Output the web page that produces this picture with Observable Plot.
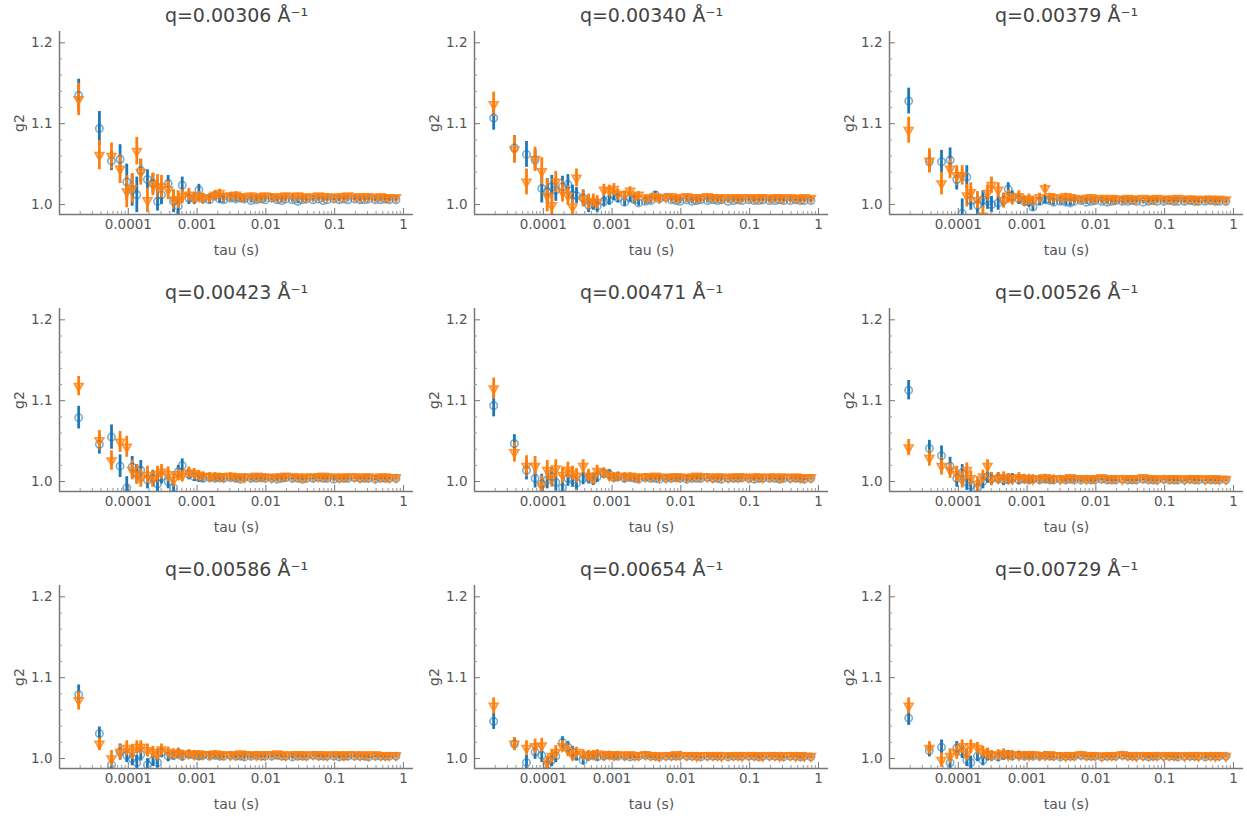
<!DOCTYPE html>
<html>
<head>
<meta charset="utf-8">
<script src="https://cdn.jsdelivr.net/npm/d3@7"></script>
<script src="https://cdn.jsdelivr.net/npm/@observablehq/plot@0.6"></script>
<style>
  html, body { margin: 0; padding: 0; background: #fff; overflow: hidden; }
  #grid { position: relative; width: 1247px; height: 824px; }
  #grid > div { position: absolute; }
</style>
</head>
<body>
<div id="grid"></div>
<script>
// ---- data ----
const qLabels = ["q=0.00306 Å⁻¹", "q=0.00340 Å⁻¹", "q=0.00379 Å⁻¹",
                 "q=0.00423 Å⁻¹", "q=0.00471 Å⁻¹", "q=0.00526 Å⁻¹",
                 "q=0.00586 Å⁻¹", "q=0.00654 Å⁻¹", "q=0.00729 Å⁻¹"];

const tau = [1.9e-5, 3.8e-5, 5.7e-5, 7.6e-5, 9.5e-5, 1.14e-4, 1.33e-4, 1.52e-4, 1.9e-4, 2.28e-4,
  2.66e-4, 3.04e-4, 3.8e-4, 4.56e-4, 5.32e-4, 6.08e-4, 7.6e-4, 9.12e-4, 1.064e-3, 1.216e-3,
  1.52e-3, 1.824e-3, 2.128e-3, 2.432e-3, 3.04e-3, 3.648e-3, 4.256e-3, 4.864e-3, 6.08e-3, 7.296e-3,
  8.512e-3, 9.728e-3, 1.216e-2, 1.459e-2, 1.702e-2, 1.946e-2, 2.432e-2, 2.918e-2, 3.405e-2, 3.891e-2,
  4.864e-2, 5.837e-2, 6.81e-2, 7.782e-2, 9.728e-2, 0.1167, 0.1362, 0.1556, 0.1946, 0.2335,
  0.2724, 0.3113, 0.3891, 0.4669, 0.5448, 0.6226, 0.7782];

const xTicks = [1e-4, 1e-3, 1e-2, 1e-1, 1];
const xTickLabels = ["0.0001", "0.001", "0.01", "0.1", "1"];
const yTicks = [1.0, 1.1, 1.2];
const yTickLabels = ["1.0", "1.1", "1.2"];
const yMinorTicks = [1.02, 1.04, 1.06, 1.08, 1.12, 1.14, 1.16, 1.18];
const xDomain = [1e-5, 1.4];
const yDomain = [0.9877, 1.214];

// panel 1
const blue1 = [1.135,1.094,1.054,1.056,1.028,1.018,1.012,1.042,1.031,1.026, 1.004,1.012,1.026,1.004,0.998,1.024,1.008,1.007,1.018,1.007,
  1.006,1.011,1.007,1.006,1.008,1.007,1.008,1.007,1.005,1.006, 1.007,1.006,1.008,1.006,1.005,1.007,1.006,1.004,1.006,1.007,
  1.006,1.007,1.005,1.006,1.007,1.006,1.007,1.006,1.007,1.006, 1.006,1.007,1.006,1.006,1.007,1.006,1.006];
const blueErr1 = [0.020,0.021,0.012,0.018,0.022,0.020,0.022,0.014,0.012,0.012, 0.012,0.012,0.010,0.014,0.013,0.010,0.008,0.007,0.007,0.006,
  0.005,0.005,0.005,0.004,0.004,0.004,0.004,0.004,0.003,0.003, 0.003,0.003,0.003,0.003,0.003,0.003,0.003,0.003,0.003,0.003,
  0.002,0.002,0.002,0.002,0.002,0.002,0.002,0.002,0.002,0.002, 0.002,0.002,0.002,0.002,0.002,0.002,0.002];
const orange1 = [1.130,1.061,1.060,1.044,1.016,1.020,1.066,1.040,1.005,1.025, 1.022,1.022,1.018,1.006,1.006,1.010,1.012,1.008,1.010,1.008,
  1.009,1.012,1.014,1.010,1.011,1.012,1.010,1.009,1.011,1.009, 1.010,1.011,1.010,1.009,1.010,1.011,1.010,1.011,1.010,1.009,
  1.010,1.011,1.010,1.010,1.009,1.010,1.010,1.011,1.010,1.009, 1.010,1.010,1.009,1.010,1.009,1.009,1.009];
const orangeErr1 = [0.020,0.018,0.016,0.018,0.020,0.018,0.017,0.016,0.015,0.014, 0.015,0.014,0.012,0.012,0.011,0.009,0.008,0.007,0.006,0.006,
  0.005,0.005,0.005,0.004,0.004,0.004,0.004,0.004,0.003,0.003, 0.003,0.003,0.003,0.003,0.003,0.003,0.003,0.003,0.003,0.003,
  0.002,0.002,0.002,0.002,0.002,0.002,0.002,0.002,0.002,0.002, 0.002,0.002,0.002,0.002,0.002,0.002,0.002];

// panel 2
const blue2 = [1.107,1.070,1.062,1.055,1.020,1.016,1.022,1.018,1.022,1.025, 1.012,1.011,1.008,0.999,1.001,0.998,1.004,1.006,1.011,1.008,
  1.003,1.008,1.006,1.002,1.004,1.005,1.012,1.007,1.009,1.006, 1.005,1.004,1.006,1.004,1.005,1.006,1.005,1.006,1.005,1.006,
  1.004,1.005,1.006,1.005,1.006,1.005,1.005,1.006,1.005,1.005, 1.006,1.005,1.005,1.006,1.005,1.005,1.005];
const blueErr2 = [0.015,0.015,0.016,0.012,0.018,0.016,0.014,0.014,0.013,0.012, 0.012,0.010,0.010,0.009,0.008,0.008,0.007,0.007,0.006,0.006,
  0.005,0.005,0.005,0.004,0.004,0.004,0.004,0.004,0.003,0.003, 0.003,0.003,0.003,0.003,0.003,0.003,0.003,0.003,0.003,0.003,
  0.002,0.002,0.002,0.002,0.002,0.002,0.002,0.002,0.002,0.002, 0.002,0.002,0.002,0.002,0.002,0.002,0.002];
const orange2 = [1.124,1.068,1.028,1.056,1.041,1.011,0.999,1.028,1.016,1.011, 0.997,1.033,1.007,1.003,1.004,1.003,1.018,1.017,1.019,1.013,
  1.012,1.017,1.010,1.012,1.008,1.009,1.010,1.008,1.009,1.010, 1.008,1.009,1.010,1.009,1.008,1.009,1.010,1.009,1.009,1.008,
  1.009,1.009,1.008,1.009,1.009,1.008,1.009,1.009,1.008,1.009, 1.009,1.008,1.009,1.008,1.008,1.009,1.008];
const orangeErr2 = [0.015,0.017,0.016,0.015,0.017,0.020,0.014,0.013,0.013,0.012, 0.012,0.011,0.010,0.010,0.009,0.008,0.007,0.007,0.007,0.006,
  0.005,0.005,0.005,0.004,0.004,0.004,0.004,0.004,0.003,0.003, 0.003,0.003,0.003,0.003,0.003,0.003,0.003,0.003,0.003,0.003,
  0.002,0.002,0.002,0.002,0.002,0.002,0.002,0.002,0.002,0.002, 0.002,0.002,0.002,0.002,0.002,0.002,0.002];

// panel 3
const blue3 = [1.128,1.053,1.053,1.055,1.031,0.989,1.034,1.005,0.999,1.006, 1.004,1.000,1.002,1.005,1.019,1.010,1.007,1.004,1.003,0.997,
  1.004,1.006,1.005,1.003,1.004,1.003,1.002,1.004,1.005,1.003, 1.004,1.005,1.004,1.003,1.004,1.005,1.004,1.004,1.005,1.004,
  1.003,1.004,1.005,1.004,1.004,1.005,1.004,1.004,1.004,1.005, 1.004,1.004,1.004,1.005,1.004,1.004,1.004];
const blueErr3 = [0.016,0.013,0.014,0.015,0.013,0.018,0.014,0.012,0.012,0.011, 0.010,0.010,0.009,0.009,0.008,0.007,0.007,0.006,0.006,0.005,
  0.005,0.005,0.004,0.004,0.004,0.004,0.004,0.003,0.003,0.003, 0.003,0.003,0.003,0.003,0.003,0.003,0.003,0.003,0.002,0.002,
  0.002,0.002,0.002,0.002,0.002,0.002,0.002,0.002,0.002,0.002, 0.002,0.002,0.002,0.002,0.002,0.002,0.002];
const orange3 = [1.092,1.054,1.026,1.044,1.036,1.036,1.011,1.015,1.005,0.986, 1.014,1.024,1.018,1.005,1.010,1.007,1.010,1.005,1.007,1.005,
  1.009,1.020,1.010,1.009,1.008,1.010,1.009,1.008,1.007,1.008, 1.009,1.007,1.008,1.007,1.008,1.007,1.007,1.008,1.007,1.007,
  1.008,1.007,1.007,1.008,1.007,1.007,1.007,1.008,1.007,1.007, 1.007,1.006,1.007,1.007,1.006,1.007,1.006];
const orangeErr3 = [0.016,0.015,0.014,0.012,0.012,0.012,0.014,0.012,0.011,0.012, 0.010,0.010,0.009,0.009,0.008,0.007,0.007,0.006,0.006,0.005,
  0.005,0.005,0.004,0.004,0.004,0.004,0.004,0.003,0.003,0.003, 0.003,0.003,0.003,0.003,0.003,0.003,0.003,0.003,0.002,0.002,
  0.002,0.002,0.002,0.002,0.002,0.002,0.002,0.002,0.002,0.002, 0.002,0.002,0.002,0.002,0.002,0.002,0.002];

// panel 4
const blue4 = [1.079,1.046,1.055,1.019,0.992,1.018,1.009,1.014,1.002,1.004, 0.997,1.006,1.000,0.992,1.012,1.020,1.009,1.006,1.005,1.004,
  1.005,1.004,1.005,1.004,1.005,1.004,1.003,1.005,1.004,1.004, 1.005,1.004,1.004,1.003,1.004,1.005,1.004,1.004,1.003,1.004,
  1.004,1.005,1.004,1.004,1.003,1.004,1.004,1.004,1.005,1.004, 1.004,1.004,1.003,1.004,1.004,1.004,1.004];
const blueErr4 = [0.014,0.012,0.015,0.014,0.014,0.013,0.012,0.012,0.011,0.010, 0.010,0.009,0.009,0.008,0.008,0.008,0.007,0.006,0.006,0.005,
  0.005,0.004,0.004,0.004,0.004,0.004,0.003,0.003,0.003,0.003, 0.003,0.003,0.003,0.003,0.003,0.003,0.002,0.002,0.002,0.002,
  0.002,0.002,0.002,0.002,0.002,0.002,0.002,0.002,0.002,0.002, 0.002,0.002,0.002,0.002,0.002,0.002,0.002];
const orange4 = [1.118,1.051,1.026,1.049,1.043,1.014,1.009,1.004,1.008,1.003, 1.009,1.012,1.009,1.002,1.009,1.007,1.011,1.010,1.008,1.007,
  1.006,1.007,1.006,1.006,1.007,1.006,1.006,1.005,1.006,1.007, 1.006,1.006,1.005,1.006,1.006,1.007,1.006,1.006,1.005,1.006,
  1.006,1.006,1.007,1.006,1.006,1.005,1.006,1.006,1.006,1.005, 1.006,1.006,1.005,1.006,1.006,1.005,1.005];
const orangeErr4 = [0.012,0.012,0.012,0.013,0.013,0.012,0.012,0.011,0.011,0.010, 0.010,0.009,0.009,0.008,0.008,0.007,0.007,0.006,0.006,0.005,
  0.005,0.004,0.004,0.004,0.004,0.004,0.003,0.003,0.003,0.003, 0.003,0.003,0.003,0.003,0.003,0.003,0.002,0.002,0.002,0.002,
  0.002,0.002,0.002,0.002,0.002,0.002,0.002,0.002,0.002,0.002, 0.002,0.002,0.002,0.002,0.002,0.002,0.002];

// panel 5
const blue5 = [1.094,1.047,1.014,1.004,0.997,1.002,1.006,0.999,0.992,1.004, 1.002,0.998,1.004,1.005,1.002,1.006,1.010,1.009,1.005,1.006,
  1.004,1.005,1.004,1.003,1.005,1.004,1.004,1.003,1.004,1.004, 1.005,1.004,1.003,1.004,1.004,1.004,1.005,1.004,1.004,1.003,
  1.004,1.004,1.004,1.005,1.004,1.003,1.004,1.004,1.004,1.004, 1.003,1.004,1.004,1.004,1.004,1.003,1.004];
const blueErr5 = [0.014,0.011,0.012,0.012,0.012,0.011,0.011,0.011,0.010,0.010, 0.009,0.009,0.008,0.008,0.007,0.007,0.006,0.006,0.005,0.005,
  0.005,0.004,0.004,0.004,0.004,0.003,0.003,0.003,0.003,0.003, 0.003,0.003,0.003,0.003,0.002,0.002,0.002,0.002,0.002,0.002,
  0.002,0.002,0.002,0.002,0.002,0.002,0.002,0.002,0.002,0.002, 0.002,0.002,0.002,0.002,0.002,0.002,0.002];
const orange5 = [1.115,1.036,1.019,1.019,0.995,1.014,1.004,1.016,1.008,1.014, 1.010,1.007,1.019,1.007,1.004,1.013,1.011,1.007,1.006,1.007,
  1.006,1.007,1.006,1.005,1.006,1.006,1.007,1.006,1.005,1.006, 1.006,1.006,1.005,1.006,1.007,1.006,1.006,1.005,1.006,1.006,
  1.005,1.006,1.006,1.006,1.005,1.006,1.006,1.005,1.006,1.006, 1.005,1.006,1.005,1.006,1.005,1.005,1.005];
const orangeErr5 = [0.013,0.012,0.013,0.012,0.012,0.012,0.011,0.011,0.010,0.010, 0.009,0.009,0.008,0.008,0.007,0.007,0.006,0.006,0.005,0.005,
  0.005,0.004,0.004,0.004,0.004,0.003,0.003,0.003,0.003,0.003, 0.003,0.003,0.003,0.003,0.002,0.002,0.002,0.002,0.002,0.002,
  0.002,0.002,0.002,0.002,0.002,0.002,0.002,0.002,0.002,0.002, 0.002,0.002,0.002,0.002,0.002,0.002,0.002];

// panel 6
const blue6 = [1.113,1.041,1.032,1.019,1.004,1.011,0.999,0.995,0.992,1.000, 1.006,1.003,1.004,1.002,1.003,1.004,1.002,1.003,1.002,1.003,
  1.002,1.003,1.002,1.002,1.003,1.002,1.003,1.002,1.002,1.003, 1.002,1.002,1.003,1.002,1.002,1.002,1.003,1.002,1.002,1.002,
  1.003,1.002,1.002,1.002,1.003,1.002,1.002,1.002,1.002,1.003, 1.002,1.002,1.002,1.002,1.002,1.002,1.002];
const blueErr6 = [0.012,0.010,0.012,0.011,0.011,0.010,0.010,0.010,0.009,0.009, 0.008,0.008,0.007,0.007,0.007,0.006,0.006,0.005,0.005,0.005,
  0.004,0.004,0.004,0.004,0.003,0.003,0.003,0.003,0.003,0.003, 0.003,0.003,0.002,0.002,0.002,0.002,0.002,0.002,0.002,0.002,
  0.002,0.002,0.002,0.002,0.002,0.002,0.002,0.002,0.002,0.002, 0.002,0.002,0.002,0.002,0.002,0.002,0.002];
const orange6 = [1.042,1.029,1.019,1.014,1.009,1.002,1.014,1.004,0.997,1.006, 1.019,1.003,1.004,1.005,1.004,1.003,1.005,1.004,1.004,1.003,
  1.004,1.005,1.004,1.004,1.003,1.004,1.005,1.004,1.004,1.003, 1.004,1.004,1.005,1.004,1.004,1.004,1.003,1.004,1.004,1.004,
  1.005,1.004,1.004,1.003,1.004,1.004,1.004,1.004,1.003,1.004, 1.004,1.004,1.003,1.004,1.004,1.003,1.003];
const orangeErr6 = [0.010,0.010,0.011,0.010,0.010,0.010,0.009,0.009,0.009,0.008, 0.008,0.008,0.007,0.007,0.006,0.006,0.006,0.005,0.005,0.005,
  0.004,0.004,0.004,0.004,0.003,0.003,0.003,0.003,0.003,0.003, 0.003,0.003,0.002,0.002,0.002,0.002,0.002,0.002,0.002,0.002,
  0.002,0.002,0.002,0.002,0.002,0.002,0.002,0.002,0.002,0.002, 0.002,0.002,0.002,0.002,0.002,0.002,0.002];

// panel 7
const blue7 = [1.079,1.031,0.992,1.008,1.004,1.000,0.995,1.005,0.992,0.998, 0.995,1.008,1.003,1.004,1.006,1.003,1.005,1.004,1.003,1.004,
  1.003,1.004,1.003,1.003,1.004,1.003,1.003,1.002,1.003,1.004, 1.003,1.003,1.003,1.004,1.003,1.003,1.002,1.003,1.003,1.003,
  1.004,1.003,1.003,1.003,1.003,1.002,1.003,1.003,1.003,1.003, 1.003,1.002,1.003,1.003,1.003,1.003,1.003];
const blueErr7 = [0.012,0.008,0.010,0.010,0.009,0.009,0.009,0.008,0.008,0.008, 0.007,0.007,0.007,0.006,0.006,0.006,0.005,0.005,0.005,0.004,
  0.004,0.004,0.004,0.003,0.003,0.003,0.003,0.003,0.003,0.003, 0.002,0.002,0.002,0.002,0.002,0.002,0.002,0.002,0.002,0.002,
  0.002,0.002,0.002,0.002,0.002,0.002,0.002,0.002,0.002,0.002, 0.002,0.002,0.002,0.002,0.002,0.002,0.002];
const orange7 = [1.072,1.018,1.000,1.008,1.013,1.008,1.014,1.014,1.010,1.008, 1.005,1.011,1.008,1.006,1.007,1.005,1.006,1.005,1.006,1.005,
  1.005,1.006,1.005,1.005,1.004,1.005,1.006,1.005,1.005,1.004, 1.005,1.005,1.005,1.006,1.005,1.004,1.005,1.005,1.005,1.004,
  1.005,1.005,1.005,1.004,1.005,1.005,1.004,1.005,1.005,1.004, 1.005,1.004,1.005,1.004,1.004,1.004,1.004];
const orangeErr7 = [0.012,0.008,0.010,0.009,0.009,0.009,0.008,0.008,0.008,0.007, 0.007,0.007,0.006,0.006,0.006,0.005,0.005,0.005,0.004,0.004,
  0.004,0.004,0.004,0.003,0.003,0.003,0.003,0.003,0.003,0.003, 0.002,0.002,0.002,0.002,0.002,0.002,0.002,0.002,0.002,0.002,
  0.002,0.002,0.002,0.002,0.002,0.002,0.002,0.002,0.002,0.002, 0.002,0.002,0.002,0.002,0.002,0.002,0.002];

// panel 8
const blue8 = [1.046,1.018,0.995,1.008,1.004,0.992,0.998,1.003,1.020,1.014, 1.008,1.003,0.998,1.003,1.004,1.002,1.003,1.004,1.003,1.003,
  1.003,1.002,1.003,1.003,1.004,1.003,1.003,1.002,1.003,1.003, 1.003,1.004,1.003,1.003,1.003,1.002,1.003,1.003,1.003,1.003,
  1.002,1.003,1.003,1.003,1.003,1.003,1.002,1.003,1.003,1.003, 1.003,1.002,1.003,1.003,1.002,1.003,1.002];
const blueErr8 = [0.010,0.008,0.009,0.009,0.009,0.008,0.008,0.008,0.007,0.007, 0.007,0.006,0.006,0.006,0.005,0.005,0.005,0.004,0.004,0.004,
  0.004,0.003,0.003,0.003,0.003,0.003,0.003,0.003,0.002,0.002, 0.002,0.002,0.002,0.002,0.002,0.002,0.002,0.002,0.002,0.002,
  0.002,0.002,0.002,0.002,0.002,0.002,0.002,0.002,0.002,0.002, 0.002,0.002,0.002,0.002,0.002,0.002,0.002];
const orange8 = [1.065,1.018,1.013,1.015,1.016,0.995,1.003,1.008,1.015,1.010, 1.004,1.008,1.005,1.004,1.005,1.006,1.004,1.005,1.004,1.005,
  1.004,1.005,1.004,1.004,1.005,1.004,1.004,1.003,1.004,1.004, 1.005,1.004,1.004,1.004,1.003,1.004,1.004,1.004,1.004,1.003,
  1.004,1.004,1.004,1.003,1.004,1.004,1.004,1.003,1.004,1.004, 1.003,1.004,1.004,1.003,1.004,1.003,1.003];
const orangeErr8 = [0.010,0.008,0.009,0.009,0.009,0.008,0.008,0.008,0.007,0.007, 0.007,0.006,0.006,0.006,0.005,0.005,0.005,0.004,0.004,0.004,
  0.004,0.003,0.003,0.003,0.003,0.003,0.003,0.003,0.002,0.002, 0.002,0.002,0.002,0.002,0.002,0.002,0.002,0.002,0.002,0.002,
  0.002,0.002,0.002,0.002,0.002,0.002,0.002,0.002,0.002,0.002, 0.002,0.002,0.002,0.002,0.002,0.002,0.002];

// panel 9
const blue9 = [1.050,1.010,1.014,0.995,1.013,1.008,0.998,0.995,1.003,0.998, 1.004,1.003,1.002,1.004,1.005,1.003,1.004,1.003,1.004,1.003,
  1.003,1.004,1.003,1.003,1.002,1.003,1.003,1.003,1.004,1.003, 1.003,1.003,1.002,1.003,1.003,1.003,1.004,1.003,1.003,1.003,
  1.003,1.002,1.003,1.003,1.003,1.003,1.003,1.002,1.003,1.003, 1.003,1.003,1.002,1.003,1.003,1.003,1.003];
const blueErr9 = [0.009,0.008,0.009,0.009,0.008,0.008,0.008,0.008,0.007,0.007, 0.007,0.006,0.006,0.006,0.005,0.005,0.005,0.004,0.004,0.004,
  0.004,0.003,0.003,0.003,0.003,0.003,0.003,0.003,0.002,0.002, 0.002,0.002,0.002,0.002,0.002,0.002,0.002,0.002,0.002,0.002,
  0.002,0.002,0.002,0.002,0.002,0.002,0.002,0.002,0.002,0.002, 0.002,0.002,0.002,0.002,0.002,0.002,0.002];
const orange9 = [1.065,1.013,0.998,1.003,1.008,1.015,1.005,1.015,1.013,1.008, 1.006,1.004,1.005,1.006,1.004,1.005,1.004,1.005,1.004,1.005,
  1.004,1.004,1.005,1.004,1.004,1.003,1.004,1.004,1.005,1.004, 1.004,1.004,1.003,1.004,1.004,1.004,1.005,1.004,1.004,1.003,
  1.004,1.004,1.004,1.004,1.003,1.004,1.004,1.004,1.003,1.004, 1.004,1.003,1.004,1.004,1.003,1.004,1.003];
const orangeErr9 = [0.010,0.008,0.009,0.009,0.009,0.008,0.008,0.008,0.007,0.007, 0.007,0.006,0.006,0.006,0.005,0.005,0.005,0.004,0.004,0.004,
  0.004,0.003,0.003,0.003,0.003,0.003,0.003,0.003,0.002,0.002, 0.002,0.002,0.002,0.002,0.002,0.002,0.002,0.002,0.002,0.002,
  0.002,0.002,0.002,0.002,0.002,0.002,0.002,0.002,0.002,0.002, 0.002,0.002,0.002,0.002,0.002,0.002,0.002];

// ---- drawing ----
const blueColor = "#1f77b4", orangeColor = "#ff7f0e";
const axisColor = "#777", textColor = "#555";
const FONT = "DejaVu Sans";

const triangleDown = {
  draw(context, size) {
    const y = -Math.sqrt(size / (Math.sqrt(3) * 3));
    context.moveTo(0, -y * 2);
    context.lineTo(-Math.sqrt(3) * y, y);
    context.lineTo(Math.sqrt(3) * y, y);
    context.closePath();
  }
};

const xMinorTicks = [];
for (const dec of [1e-5, 1e-4, 1e-3, 1e-2, 1e-1]) for (let m = 2; m <= 9; m++) xMinorTicks.push(+(m * dec).toPrecision(3));

const panels = [
  [blue1, blueErr1, orange1, orangeErr1], [blue2, blueErr2, orange2, orangeErr2], [blue3, blueErr3, orange3, orangeErr3],
  [blue4, blueErr4, orange4, orangeErr4], [blue5, blueErr5, orange5, orangeErr5], [blue6, blueErr6, orange6, orangeErr6],
  [blue7, blueErr7, orange7, orangeErr7], [blue8, blueErr8, orange8, orangeErr8], [blue9, blueErr9, orange9, orangeErr9]
];

const W = 415, H = 277;
const grid = document.getElementById("grid");

panels.forEach(([b, be, o, oe], i) => {
  const rows = tau.map((t, j) => ({tau: t, b: b[j], be: be[j], o: o[j], oe: oe[j]}));
  const chart = Plot.plot({
    width: W, height: H,
    marginLeft: 59, marginRight: 2, marginTop: 31, marginBottom: 63,
    style: {fontFamily: FONT, fontSize: "13.5px", color: textColor, background: "transparent", overflow: "visible"},
    x: {type: "log", domain: xDomain},
    y: {domain: yDomain},
    marks: [
      Plot.ruleX(rows, {x: "tau", y1: d => d.b - d.be, y2: d => d.b + d.be, stroke: blueColor, strokeWidth: 2.8, clip: true}),
      Plot.ruleX(rows, {x: "tau", y1: d => d.o - d.oe, y2: d => d.o + d.oe, stroke: orangeColor, strokeWidth: 2.8, clip: true}),
      Plot.dot(rows, {x: "tau", y: "b", r: 3.7, stroke: blueColor, strokeOpacity: 0.6, strokeWidth: 1.6, fill: "none", clip: true}),
      Plot.dot(rows, {x: "tau", y: "o", r: 3.4, symbol: triangleDown, stroke: orangeColor, strokeOpacity: 0.8, strokeWidth: 1.5,
                      fill: orangeColor, fillOpacity: 0.45, clip: true}),
      Plot.ruleX([xDomain[0]], {stroke: axisColor, strokeWidth: 1.5}),
      Plot.ruleY([yDomain[0]], {stroke: axisColor, strokeWidth: 1.5}),
      Plot.axisX({ticks: xTicks, tickFormat: d => xTickLabels[xTicks.indexOf(d)], tickSize: -6, tickPadding: 11,
                  stroke: axisColor, fill: textColor, fontSize: 13.5, label: null}),
      Plot.axisX({ticks: xMinorTicks, tickFormat: () => "", tickSize: -3, tickPadding: 0, stroke: "#999", label: null}),
      Plot.axisY({ticks: yTicks, tickFormat: d => yTickLabels[yTicks.indexOf(d)], tickSize: -6, tickPadding: 13,
                  stroke: axisColor, fill: textColor, fontSize: 13.5, label: null}),
      Plot.axisY({ticks: yMinorTicks, tickFormat: () => "", tickSize: -3, tickPadding: 0, stroke: "#999", label: null}),
      Plot.text([qLabels[i]], {text: d => d, frameAnchor: "top", dy: -16, fontSize: 19, fill: "#444", lineAnchor: "middle"}),
      Plot.text(["tau (s)"], {text: d => d, frameAnchor: "bottom", dy: 40, fontSize: 14, fill: textColor}),
      Plot.text(["g2"], {text: d => d, frameAnchor: "left", dx: -40, rotate: -90, textAnchor: "middle", fontSize: 14, fill: textColor})
    ]
  });
  const wrap = document.createElement("div");
  wrap.style.left = (i % 3) * W + "px";
  wrap.style.top = Math.floor(i / 3) * H + "px";
  wrap.appendChild(chart);
  grid.appendChild(wrap);
});
</script>
</body>
</html>
